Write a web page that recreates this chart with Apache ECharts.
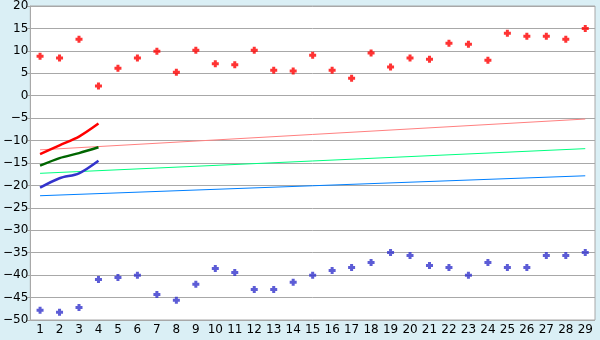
<!DOCTYPE html>
<html><head><meta charset="utf-8">
<script src="https://cdn.jsdelivr.net/npm/echarts@6/dist/echarts.min.js"></script>
<style>html,body{margin:0;padding:0;background:#daeff5;}#c{width:600px;height:340px;}</style>
</head><body><div id="c"></div>
<script>
const categories = ['1','2','3','4','5','6','7','8','9','10','11','12','13','14','15','16','17','18','19','20','21','22','23','24','25','26','27','28','29'];
const redPoints = [8.8,8.4,12.6,2.15,6.15,8.4,9.9,5.25,10.15,7.1,6.9,10.15,5.7,5.5,9.0,5.7,3.9,9.5,6.4,8.4,8.15,11.7,11.5,7.9,13.9,13.25,13.25,12.6,15.0];
const bluePoints = [-47.85,-48.3,-47.2,-40.95,-40.5,-40.05,-44.3,-45.6,-42.05,-38.5,-39.4,-43.2,-43.2,-41.6,-40.05,-38.95,-38.3,-37.2,-34.95,-35.6,-37.85,-38.3,-40.05,-37.2,-38.3,-38.3,-35.6,-35.6,-34.95];
const redCurve = [-13.0,-11.05,-9.1,-6.2];
const greenCurve = [-15.6,-13.9,-12.8,-11.5];
const blueCurve = [-20.5,-18.4,-17.3,-14.5];
const pinkTrendEnds = [-12.07,-5.2];
const greenTrendEnds = [-17.3,-11.8];
const blueTrendEnds = [-22.3,-17.85];

function trend(ends){
  const d = new Array(categories.length).fill(null);
  d[0] = ends[0]; d[categories.length-1] = ends[1];
  return d;
}
const plus = 'path://M2,0H5V2H7V5H5V7H2V5H0V2H2Z';
const chart = echarts.init(document.getElementById('c'));
const font = {fontFamily:'DejaVu Sans', fontSize:12, color:'#000'};
chart.setOption({
  animation:false,
  backgroundColor:'#daeff5',
  grid:{left:26,right:5,top:5,bottom:20,show:true,backgroundColor:'#fff',borderColor:'#a8a8a8',borderWidth:1},
  xAxis:{type:'category',data:categories,boundaryGap:true,
    axisLine:{lineStyle:{color:'#a8a8a8',width:1}},
    axisTick:{alignWithLabel:true,length:4,lineStyle:{color:'#000'}},
    axisLabel:Object.assign({margin:4,interval:0},font),
    splitLine:{show:false}},
  yAxis:{type:'value',min:-50,max:20,interval:5,
    axisLine:{show:true,lineStyle:{color:'#a8a8a8'}},
    axisTick:{show:true,length:3,lineStyle:{color:'#a8a8a8'}},
    axisLabel:Object.assign({margin:2,formatter:v=>String(v).replace('-','\u2212')},font),
    splitLine:{lineStyle:{color:'#a8a8a8',width:1}}},
  series:[
    {type:'line',data:trend(pinkTrendEnds),connectNulls:true,symbol:'none',lineStyle:{color:'#ff8080',width:1},z:2},
    {type:'line',data:trend(greenTrendEnds),connectNulls:true,symbol:'none',lineStyle:{color:'#00ff80',width:1},z:2},
    {type:'line',data:trend(blueTrendEnds),connectNulls:true,symbol:'none',lineStyle:{color:'#0080ff',width:1},z:2},
    {type:'line',data:redCurve,smooth:0.3,symbol:'none',lineStyle:{color:'#ff0000',width:2.5},z:3},
    {type:'line',data:greenCurve,smooth:0.3,symbol:'none',lineStyle:{color:'#006600',width:2.5},z:3},
    {type:'line',data:blueCurve,smooth:0.3,symbol:'none',lineStyle:{color:'#3333cc',width:2.5},z:3},
    {type:'scatter',data:redPoints,symbol:plus,symbolSize:7,itemStyle:{color:'#ff0000'},z:4},
    {type:'scatter',data:bluePoints,symbol:plus,symbolSize:7,itemStyle:{color:'#3333cc'},z:4}
  ]
});
</script></body></html>
